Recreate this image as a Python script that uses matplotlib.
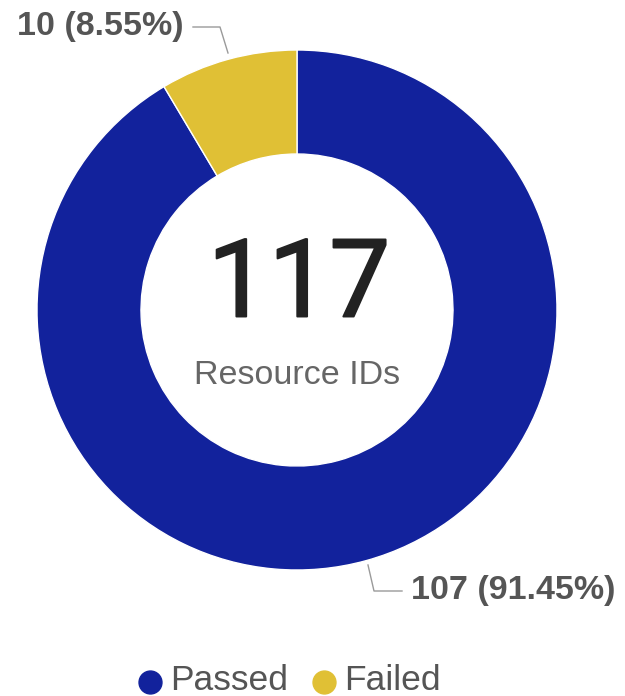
import matplotlib
matplotlib.use("Agg")
import matplotlib.pyplot as plt
import matplotlib.patheffects as pe

categories = ["Passed", "Failed"]
values = [107, 10]
colors = ["#12229C", "#E0C035"]
total_label = "117"
center_sub = "Resource IDs"
slice_labels = ["107 (91.45%)", "10 (8.55%)"]

plt.rcParams['font.family'] = ['Liberation Sans', 'DejaVu Sans']

fig = plt.figure(figsize=(6.25, 6.96), dpi=100)
ax = fig.add_axes([0, 0, 1, 1])
H = 696
cx, cy = 297, H - 310
R = 260
ax.pie(values, colors=colors, startangle=90, counterclock=False,
       radius=R, center=(cx, cy),
       wedgeprops=dict(width=104, edgecolor='white', linewidth=1))
ax.set_xlim(0, 625)
ax.set_ylim(0, H)
ax.set_aspect('equal')
ax.set_axis_off()

ax.text(cx + 2, H - 287, total_label, ha='center', va='center', fontsize=78,
        color='#222222', family=['Roboto', 'DejaVu Sans'],
        path_effects=[pe.withStroke(linewidth=1.4, foreground='#222222')])
ax.text(cx, H - 376, center_sub, ha='center', va='center', fontsize=24.5, color='#666666')

# slice labels with leader lines
lc = '#9a9a9a'
ax.plot([193, 220, 228], [H - 27, H - 27, H - 53], color=lc, lw=1)
ax.text(184, H - 27, slice_labels[1], ha='right', va='center', fontsize=24.5,
        fontweight='bold', color='#555555')
ax.plot([368, 374, 402], [H - 565, H - 591, H - 591], color=lc, lw=1)
ax.text(411, H - 591, slice_labels[0], ha='left', va='center', fontsize=24.5,
        fontweight='bold', color='#555555')

# legend
lx = [150, 324]
for x, c, name in zip(lx, colors, categories):
    ax.plot([x], [H - 682], 'o', ms=16.5, color=c)
    ax.text(x + 20, H - 681, name, ha='left', va='center', fontsize=25.5, color='#555555')

fig.savefig("out.png", dpi=100)
